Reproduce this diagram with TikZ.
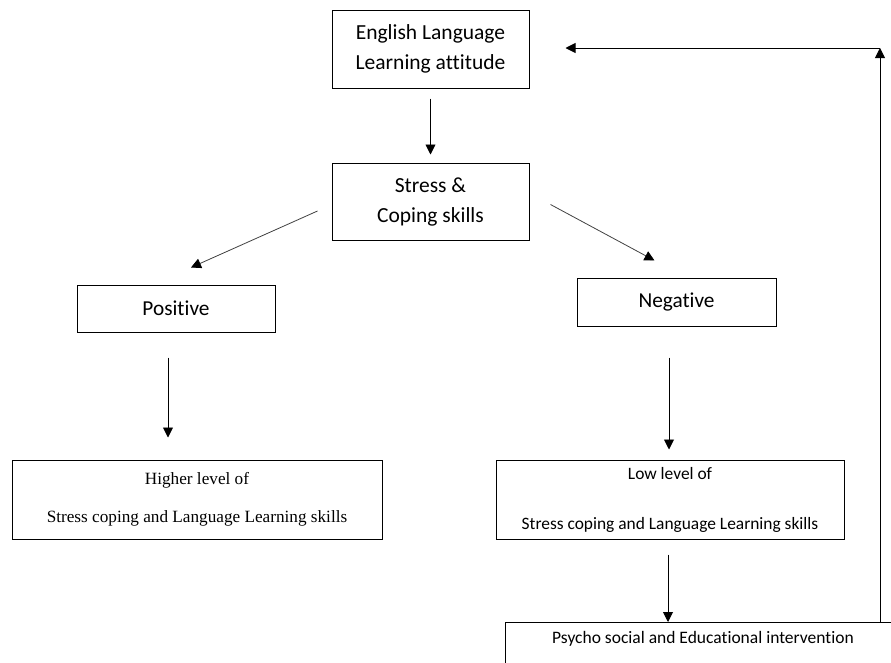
\documentclass[tikz,border=0pt]{standalone}
\usepackage{fontspec}
\setmainfont[Ligatures=NoCommon]{Carlito}
\newfontfamily\timesf{Liberation Serif}
\usetikzlibrary{arrows.meta,calc}
\begin{document}
\begin{tikzpicture}[x=1pt,y=-1pt,
  box/.style={draw,line width=1pt,inner sep=0pt,align=center},
  arr/.style={line width=0.9pt,-{Triangle[length=10pt,width=10pt]}},
  darr/.style={line width=0.8pt,draw=black!75,-{Triangle[length=10pt,width=10pt,color=black]}}]
\useasboundingbox (0,0) rectangle (891,662);
\clip (0,0) rectangle (891,662);
\node[box,minimum width=197,minimum height=78,font=\fontsize{21.5}{30}\selectfont] (eng) at (430.5,49) {English Language\\Learning attitude};
\node[box,minimum width=197,minimum height=77,font=\fontsize{21.5}{30}\selectfont] (stress) at (430.5,201.5) {Stress \&\\Coping skills};
\node[box,minimum width=198,minimum height=47,font=\fontsize{21.3}{22}\selectfont] (pos) at (176,308.5) {Positive};
\node[box,minimum width=199,minimum height=48,font=\fontsize{21.3}{22}\selectfont] (neg) at (676.5,302) {Negative};
\node[box,minimum width=370,minimum height=79,font=\timesf\fontsize{17.2}{38}\selectfont] (high) at (197,499.5) {Higher level of\\Stress coping and Language Learning skills};
\node[box,minimum width=348,minimum height=79,font=\fontsize{17.4}{50}\selectfont] (low) at (670,499.5) {Low level of\\Stress coping and Language Learning skills};
\node[draw,line width=1pt,minimum width=396,minimum height=80,anchor=north] (psy) at (703,622) {};
\node[font=\fontsize{17.5}{18}\selectfont] (psyt) at (703,639) {Psycho social and Educational intervention};
\coordinate (fb) at (880,48);
\draw[arr,shorten <=10pt,shorten >=8pt] (eng.south) -- (eng.south |- stress.north);
\draw[darr] ([shift={(-14,9.5)}]stress.west) -- ([shift={(15,-17)}]pos.north);
\draw[darr] ([shift={(21,3)}]stress.east) -- ([shift={(-22,-17)}]neg.north);
\draw[arr,shorten <=25pt,shorten >=22pt] (pos.south -| 168,0) -- (high.north -| 168,0);
\draw[arr,shorten <=31pt,shorten >=10pt] (neg.south -| 669,0) -- (low.north -| 669,0);
\draw[arr,shorten <=15pt] (low.south -| 668,0) -- (psy.north -| 668,0);
\draw[arr] (psy.north -| fb) -- (fb);
\draw[arr,shorten >=36pt] (fb) -- (eng.east |- fb);
\end{tikzpicture}
\end{document}
